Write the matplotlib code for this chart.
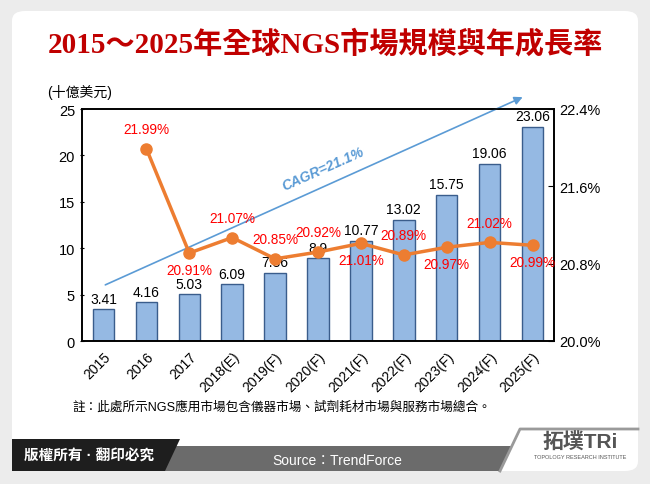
import matplotlib
matplotlib.use("Agg")
import matplotlib.pyplot as plt
from matplotlib.patches import FancyBboxPatch, Polygon
import numpy as np

plt.rcParams['font.family'] = ['Liberation Sans', 'Noto Sans CJK TC']

# data
years = ["2015", "2016", "2017", "2018(E)", "2019(F)", "2020(F)", "2021(F)",
         "2022(F)", "2023(F)", "2024(F)", "2025(F)"]
market = [3.41, 4.16, 5.03, 6.09, 7.36, 8.9, 10.77, 13.02, 15.75, 19.06, 23.06]
growth = [None, 21.99, 20.91, 21.07, 20.85, 20.92, 21.01, 20.89, 20.97, 21.02, 20.99]
growth_above = [None, True, False, True, True, True, False, True, False, True, False]

W, H = 650, 485
fig = plt.figure(figsize=(W / 100, H / 100), dpi=100)
fig.patch.set_facecolor("#ececec")

def px(x, y):
    return (x / W, 1 - y / H)

# white panel
panel = FancyBboxPatch(px(12, 472), 626 / W, 460 / H,
                       boxstyle="round,pad=0,rounding_size=0.02",
                       transform=fig.transFigure, facecolor="white",
                       edgecolor="none", zorder=-5)
fig.patches.append(panel)

# bottom band
grey = Polygon([px(150, 447), px(512, 447), px(500, 472), px(150, 472)],
               closed=True, transform=fig.transFigure, facecolor="#6b6b6b",
               edgecolor="none", zorder=-4)
fig.patches.append(grey)
dark = Polygon([px(12, 440), px(180, 440), px(165, 472), px(12, 472)],
               closed=True, transform=fig.transFigure, facecolor="#1e1e1e",
               edgecolor="none", zorder=-3)
fig.patches.append(dark)
fig.lines.append(plt.Line2D([500 / W, 520 / W, 638 / W],
                            [1 - 472 / H, 1 - 430 / H, 1 - 430 / H],
                            transform=fig.transFigure, color="#9a9a9a", lw=2,
                            zorder=-3))

fig.text(*px(24, 456), "版權所有 · 翻印必究", color="white", fontsize=10.5,
         fontweight="bold", va="center", ha="left")
fig.text(*px(337, 461), "Source：TrendForce", color="white", fontsize=10,
         va="center", ha="center")
fig.text(*px(580, 443), "拓墣TRi", color="#555555", fontsize=15,
         fontweight="bold", va="center", ha="center")
fig.text(*px(580, 458), "TOPOLOGY RESEARCH INSTITUTE", color="#555555",
         fontsize=4, va="center", ha="center")

# title
fig.text(*px(325, 44), "2015～2025年全球NGS市場規模與年成長率",
         color="#c00000", fontsize=21, fontweight="bold", ha="center",
         va="center", family=['Liberation Serif', 'Noto Sans CJK TC'])

fig.text(*px(47, 93), "(十億美元)", fontsize=10, ha="left", va="center")

fig.text(*px(72, 408), "註：此處所示NGS應用市場包含儀器市場、試劑耗材市場與服務市場總合。",
         fontsize=9.1, ha="left", va="center")

ax = fig.add_axes([82 / W, 1 - 342 / H, 472 / W, 232 / H])
ax.set_facecolor("none")
x = np.arange(len(years))
ax.bar(x, market, width=0.5, color="#95b9e3", edgecolor="#3a5d8c", lw=1,
       zorder=2)
for xi, v in zip(x, market):
    ax.text(xi, v + 0.4, f"{v:g}", ha="center", va="bottom", fontsize=10)
ax.set_xlim(-0.5, len(years) - 0.5)
ax.set_ylim(0, 25)
ax.set_yticks([0, 5, 10, 15, 20, 25])
ax.set_xticks(x)
ax.set_xticklabels(years, rotation=45, ha="right", rotation_mode="anchor",
                   fontsize=10)
ax.tick_params(axis="y", labelsize=10.5, length=3, direction="inout")
ax.tick_params(axis="x", length=0, pad=6)
for s in ax.spines.values():
    s.set_color("black")
    s.set_linewidth(1.2)

ax2 = ax.twinx()
gx = [xi for xi, g in zip(x, growth) if g is not None]
gy = [g for g in growth if g is not None]
ax2.plot(gx, gy, color="#ed7d31", lw=2.5, marker="o", ms=8, zorder=3)
for xi, g, up in zip(x, growth, growth_above):
    if g is None:
        continue
    if up:
        ax2.text(xi, g + 0.13, f"{g:.2f}%", color="red", ha="center",
                 va="bottom", fontsize=9.8)
    else:
        ax2.text(xi, g - 0.1, f"{g:.2f}%", color="red", ha="center",
                 va="top", fontsize=9.8)
ax2.set_ylim(20.0, 22.4)
ax2.set_yticks([20.0, 20.8, 21.6, 22.4])
ax2.set_yticklabels([f"{t:.1f}%" for t in [20.0, 20.8, 21.6, 22.4]])
ax2.tick_params(axis="y", labelsize=10.5, length=4, direction="in")
for s in ax2.spines.values():
    s.set_color("black")
    s.set_linewidth(1.2)

# CAGR arrow
ax.annotate("", xy=(0.939, 1.056), xytext=(0.044, 0.237),
            xycoords="axes fraction", textcoords="axes fraction",
            arrowprops=dict(arrowstyle="-|>", color="#5b9bd5", lw=1.2,
                            mutation_scale=12), annotation_clip=False)
ax.text(0.51, 0.745, "CAGR=21.1%", transform=ax.transAxes, color="#5b9bd5",
        fontsize=10, fontweight="bold", style="italic", rotation=24,
        ha="center", va="center")

fig.savefig("out.png", dpi=100, facecolor=fig.get_facecolor())
